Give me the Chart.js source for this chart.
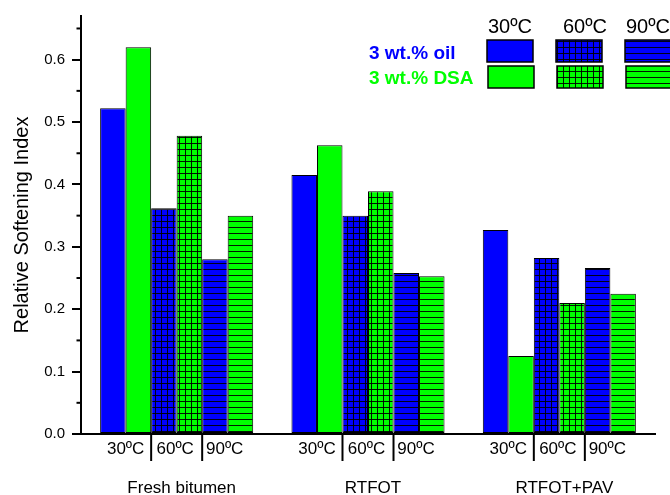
<!DOCTYPE html>
<html>
<head>
<meta charset="utf-8">
<script src="https://cdn.jsdelivr.net/npm/chart.js@4.4.1/dist/chart.umd.min.js"></script>
<style>
  body { margin: 0; background: #fff; }
</style>
</head>
<body>
<canvas id="barCanvas" width="670" height="495"></canvas>
<script>
// data
const groups = ['Fresh bitumen', 'RTFOT', 'RTFOT+PAV'];
const temps = ['30ºC', '60ºC', '90ºC'];
const oil30 = [0.522, 0.415, 0.327];
const dsa30 = [0.620, 0.463, 0.125];
const oil60 = [0.362, 0.350, 0.282];
const dsa60 = [0.478, 0.389, 0.210];
const oil90 = [0.280, 0.258, 0.266];
const dsa90 = [0.350, 0.253, 0.225];
const yTicks = [0, 0.1, 0.2, 0.3, 0.4, 0.5, 0.6];

const BLUE = '#0000ff';
const GREEN = '#00ff00';
const FONT = '"Liberation Sans", Arial, sans-serif';

// hatch patterns : grid for 60ºC, horizontal lines for 90ºC
function makePattern(color, type) {
    const c = document.createElement('canvas');
    c.width = 6; c.height = 6;
    const g = c.getContext('2d');
    g.fillStyle = color;
    g.fillRect(0, 0, 6, 6);
    if (type) {
        g.fillStyle = 'rgba(0,0,0,0.9)';
        g.fillRect(0, 5, 6, 1);
        if (type === 'grid') g.fillRect(5, 0, 1, 6);
    }
    return g.createPattern(c, 'repeat');
}

const fills = [
    makePattern(BLUE), makePattern(GREEN),
    makePattern(BLUE, 'grid'), makePattern(GREEN, 'grid'),
    makePattern(BLUE, 'lines'), makePattern(GREEN, 'lines')
];
const series = [oil30, dsa30, oil60, dsa60, oil90, dsa90];

Chart.defaults.font.family = FONT;
Chart.defaults.color = '#000';

// minor ticks, temperature labels under the bars, separators and the legend
const extras = {
    id: 'extras',
    afterDraw(chart) {
        const ctx = chart.ctx;
        const y = chart.scales.y;
        const area = chart.chartArea;
        ctx.save();
        ctx.strokeStyle = '#000';
        ctx.lineWidth = 2;

        // minor ticks
        for (let i = 0; i < yTicks.length; i++) {
            const py = y.getPixelForValue(yTicks[i] + 0.05);
            if (py < area.top) continue;
            ctx.beginPath();
            ctx.moveTo(area.left - 4.5, py);
            ctx.lineTo(area.left, py);
            ctx.stroke();
        }

        // temperature labels + separators
        ctx.font = '17px ' + FONT;
        ctx.fillStyle = '#000';
        ctx.textAlign = 'center';
        ctx.textBaseline = 'alphabetic';
        for (let j = 0; j < groups.length; j++) {
            for (let k = 0; k < 3; k++) {
                const a = chart.getDatasetMeta(2 * k).data[j];
                const b = chart.getDatasetMeta(2 * k + 1).data[j];
                const left = a.x - a.width / 2;
                const right = b.x + b.width / 2;
                ctx.fillText(temps[k], (left + right) / 2 - k * 1.5, 454);
                if (k < 2) {
                    ctx.beginPath();
                    ctx.moveTo(right, area.bottom);
                    ctx.lineTo(right, 461);
                    ctx.stroke();
                }
            }
        }

        // legend
        ctx.textAlign = 'left';
        ctx.font = '20px ' + FONT;
        const headX = [488, 563, 626];
        const boxX = [487, 556, 625];
        temps.forEach((t, k) => ctx.fillText(t, headX[k], 33));
        ctx.font = 'bold 19px ' + FONT;
        ctx.fillStyle = BLUE;
        ctx.fillText('3 wt.% oil', 369, 59);
        ctx.fillStyle = GREEN;
        ctx.fillText('3 wt.% DSA', 369, 84);
        ctx.lineWidth = 1.5;
        for (let k = 0; k < 3; k++) {
            ctx.fillStyle = fills[2 * k];
            ctx.fillRect(boxX[k], 40, 46, 22);
            ctx.strokeRect(boxX[k], 40, 46, 22);
            ctx.fillStyle = fills[2 * k + 1];
            ctx.fillRect(boxX[k] + 1, 66, 46, 22);
            ctx.strokeRect(boxX[k] + 1, 66, 46, 22);
        }
        ctx.restore();
    }
};

const ctx = document.getElementById('barCanvas').getContext('2d');
new Chart(ctx, {
    type: 'bar',
    data: {
        labels: groups,
        datasets: series.map((d, i) => ({
            data: d,
            backgroundColor: fills[i],
            borderColor: '#000',
            borderWidth: 1,
            borderSkipped: false,
            categoryPercentage: 0.8,
            barPercentage: 1.0
        }))
    },
    options: {
        responsive: false,
        animation: false,
        devicePixelRatio: 1,
        layout: { padding: { top: 14, right: 15, left: 0, bottom: 0 } },
        plugins: {
            legend: { display: false },
            tooltip: { enabled: false }
        },
        scales: {
            x: {
                grid: { drawOnChartArea: false, drawTicks: false },
                border: { color: '#000', width: 2 },
                ticks: { font: { size: 17 }, padding: 44, labelOffset: 5, color: '#000' },
                afterFit: s => { s.height = 61; }
            },
            y: {
                min: 0,
                max: 0.67,
                grid: { drawOnChartArea: false, tickLength: 9, lineWidth: 2, color: '#000' },
                border: { color: '#000', width: 2 },
                ticks: {
                    stepSize: 0.1,
                    includeBounds: false,
                    font: { size: 15 },
                    padding: 7,
                    color: '#000',
                    callback: v => v.toFixed(1)
                },
                title: {
                    display: true,
                    text: 'Relative Softening Index',
                    font: { size: 20 },
                    color: '#000',
                    padding: { top: 10, bottom: 0 }
                },
                afterFit: s => { s.width = 81; }
            }
        }
    },
    plugins: [extras]
});
</script>
</body>
</html>
